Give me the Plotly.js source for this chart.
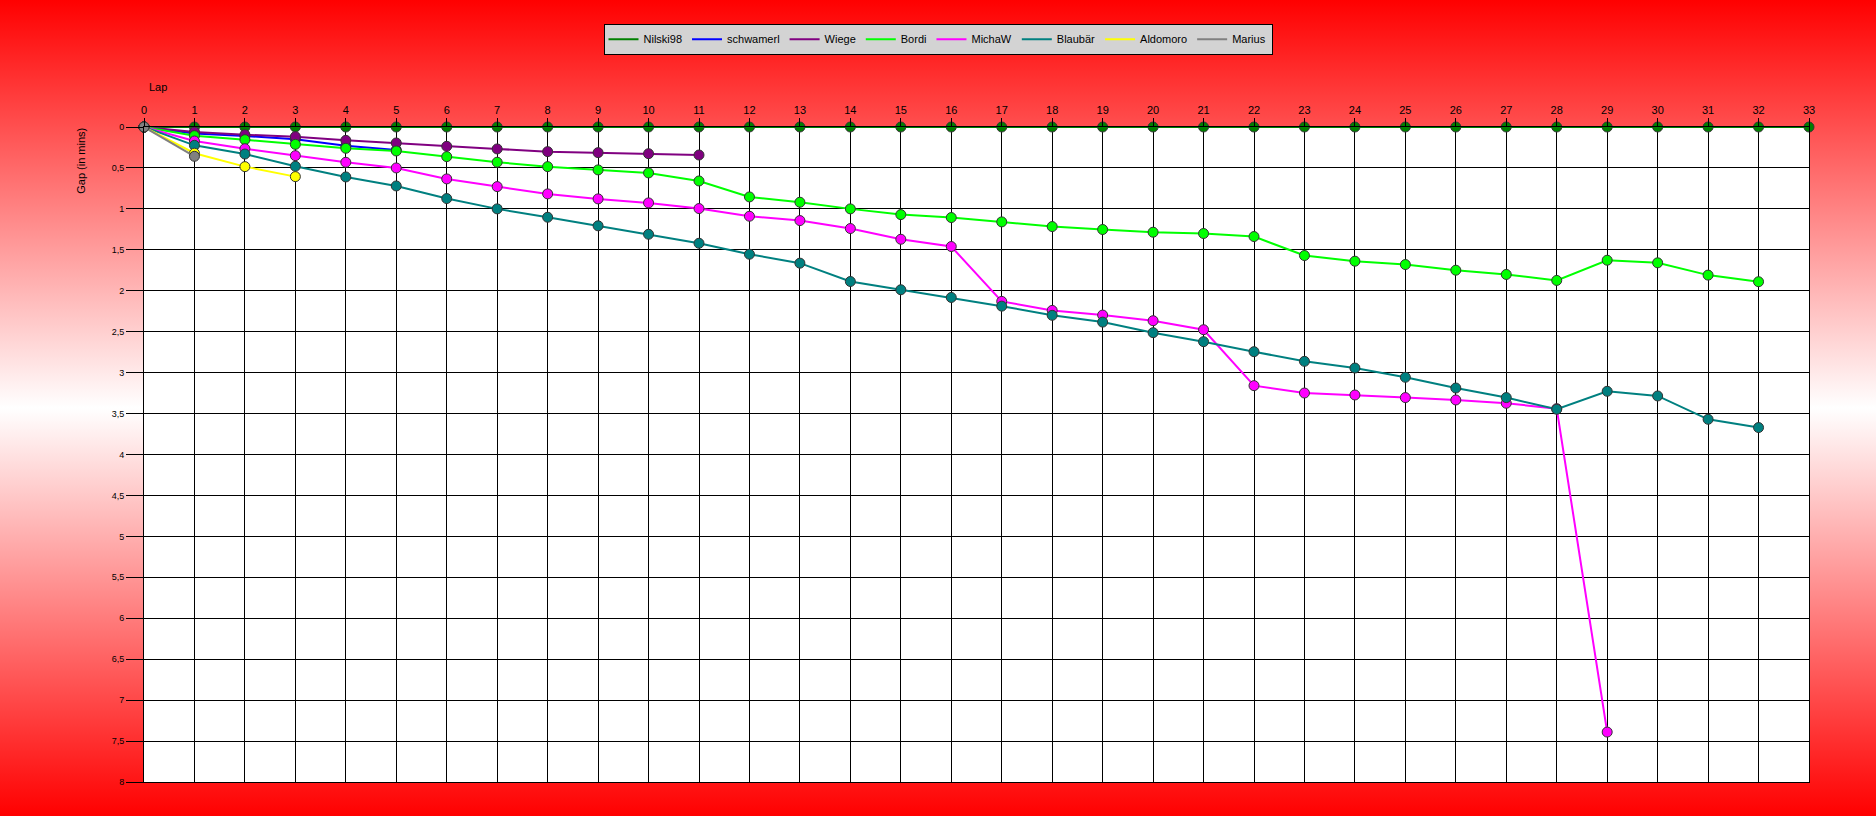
<!DOCTYPE html>
<html>
<head>
<meta charset="utf-8">
<script src="https://cdn.plot.ly/plotly-3.0.1.min.js"></script>
<style>
  html, body { margin: 0; padding: 0; }
  #chart {
    width: 1876px;
    height: 816px;
    background: linear-gradient(to bottom, #ff0000 0%, #ffffff 50%, #ff0000 100%);
  }
</style>
</head>
<body>
<div id="chart"></div>
<script>
// lap numbers shown on the top axis
const laps = [0, 1, 2, 3, 4, 5, 6, 7, 8, 9, 10, 11, 12, 13, 14, 15, 16,
  17, 18, 19, 20, 21, 22, 23, 24, 25, 26, 27, 28, 29, 30, 31, 32, 33];

const gapTicks = [0, 0.5, 1, 1.5, 2, 2.5, 3, 3.5, 4, 4.5, 5, 5.5, 6, 6.5, 7, 7.5, 8];
const gapTickText = ["0", "0,5", "1", "1,5", "2", "2,5", "3", "3,5", "4", "4,5",
  "5", "5,5", "6", "6,5", "7", "7,5", "8"];

// gap to leader per lap, in minutes
const nilski98 = [0, 0, 0, 0, 0, 0, 0, 0, 0, 0, 0, 0, 0, 0, 0, 0, 0,
  0, 0, 0, 0, 0, 0, 0, 0, 0, 0, 0, 0, 0, 0, 0, 0, 0];
const schwamerl = [0, 0.08, 0.11, 0.15, 0.23, 0.28];
const wiege = [0, 0.06, 0.094, 0.118, 0.163, 0.195, 0.236, 0.268, 0.301, 0.313, 0.326, 0.342];
const bordi = [0, 0.106, 0.155, 0.212, 0.26, 0.293, 0.362, 0.43, 0.484, 0.524, 0.561, 0.659,
  0.854, 0.919, 1.0, 1.07, 1.106, 1.159, 1.216, 1.252, 1.285, 1.301, 1.338,
  1.57, 1.639, 1.68, 1.749, 1.801, 1.874, 1.627, 1.659, 1.809, 1.89];
const michaW = [0, 0.171, 0.265, 0.35, 0.431, 0.5, 0.634, 0.728, 0.817, 0.878, 0.927, 0.996,
  1.09, 1.143, 1.24, 1.371, 1.46, 2.13, 2.24, 2.297, 2.366, 2.476, 3.159,
  3.249, 3.273, 3.305, 3.334, 3.374, 3.44, 7.39];
const blaubaer = [0, 0.224, 0.33, 0.48, 0.61, 0.72, 0.874, 1.0, 1.102, 1.207, 1.31, 1.42,
  1.554, 1.663, 1.887, 1.988, 2.082, 2.188, 2.3, 2.383, 2.512, 2.622, 2.744,
  2.862, 2.944, 3.057, 3.188, 3.305, 3.448, 3.228, 3.285, 3.57, 3.671];
const aldomoro = [0, 0.32, 0.484, 0.606];
const marius = [0, 0.358];

const drivers = [
  { name: "Nilski98", gaps: nilski98, color: "#008000" },
  { name: "schwamerl", gaps: schwamerl, color: "#0000ff" },
  { name: "Wiege", gaps: wiege, color: "#800080" },
  { name: "Bordi", gaps: bordi, color: "#00ff00" },
  { name: "MichaW", gaps: michaW, color: "#ff00ff" },
  { name: "Blaubär", gaps: blaubaer, color: "#008080" },
  { name: "Aldomoro", gaps: aldomoro, color: "#ffff00" },
  { name: "Marius", gaps: marius, color: "#808080" },
];

// the real traces, kept out of the legend so it shows plain line swatches
const data = drivers.map((d) => ({
  type: "scatter",
  mode: "lines+markers",
  name: d.name,
  legendgroup: d.name,
  showlegend: false,
  cliponaxis: false,
  x: laps.slice(0, d.gaps.length),
  y: d.gaps,
  line: { color: d.color, width: 2 },
  marker: { color: d.color, size: 10, line: { color: "#333333", width: 1 } },
}));

// line-only legend entries
for (const d of drivers) {
  data.push({
    type: "scatter",
    mode: "lines",
    name: d.name,
    legendgroup: d.name,
    x: [null],
    y: [null],
    line: { color: d.color, width: 2 },
  });
}

const axisFont = { family: "Liberation Sans, Arial, sans-serif", color: "#000000" };

const layout = {
  width: 1876,
  height: 816,
  paper_bgcolor: "rgba(0,0,0,0)",
  plot_bgcolor: "#ffffff",
  margin: { l: 144, r: 67, t: 127, b: 34, pad: 0 },
  showlegend: true,
  legend: {
    orientation: "h",
    xref: "container",
    yref: "container",
    x: 0.5,
    xanchor: "center",
    y: 0.971,
    yanchor: "top",
    bgcolor: "#d3d3d3",
    bordercolor: "#000000",
    borderwidth: 1,
    itemwidth: 30,
    font: { ...axisFont, size: 11 },
  },
  xaxis: {
    side: "top",
    range: [0, 33],
    tickvals: laps,
    ticktext: laps.map(String),
    ticks: "outside",
    ticklen: 8,
    tickcolor: "#000000",
    tickfont: { ...axisFont, size: 11 },
    showgrid: true,
    gridcolor: "#000000",
    gridwidth: 1,
    zeroline: false,
    showline: true,
    linecolor: "#000000",
    mirror: true,
  },
  yaxis: {
    range: [8, 0],
    tickvals: gapTicks,
    ticktext: gapTickText,
    ticks: "outside",
    ticklen: 17,
    tickcolor: "#000000",
    tickfont: { ...axisFont, size: 9 },
    showgrid: true,
    gridcolor: "#000000",
    gridwidth: 1,
    zeroline: false,
    showline: true,
    linecolor: "#000000",
    mirror: true,
  },
  annotations: [
    {
      text: "Lap",
      xref: "paper",
      yref: "paper",
      x: 0.002,
      y: 1.061,
      xanchor: "left",
      yanchor: "middle",
      showarrow: false,
      font: { ...axisFont, size: 11 },
    },
    {
      text: "Gap (in mins)",
      xref: "paper",
      yref: "paper",
      x: -0.038,
      y: 0.948,
      xanchor: "center",
      yanchor: "middle",
      textangle: -90,
      showarrow: false,
      font: { ...axisFont, size: 11 },
    },
  ],
};

Plotly.newPlot("chart", data, layout, { displayModeBar: false, staticPlot: true });
</script>
</body>
</html>
